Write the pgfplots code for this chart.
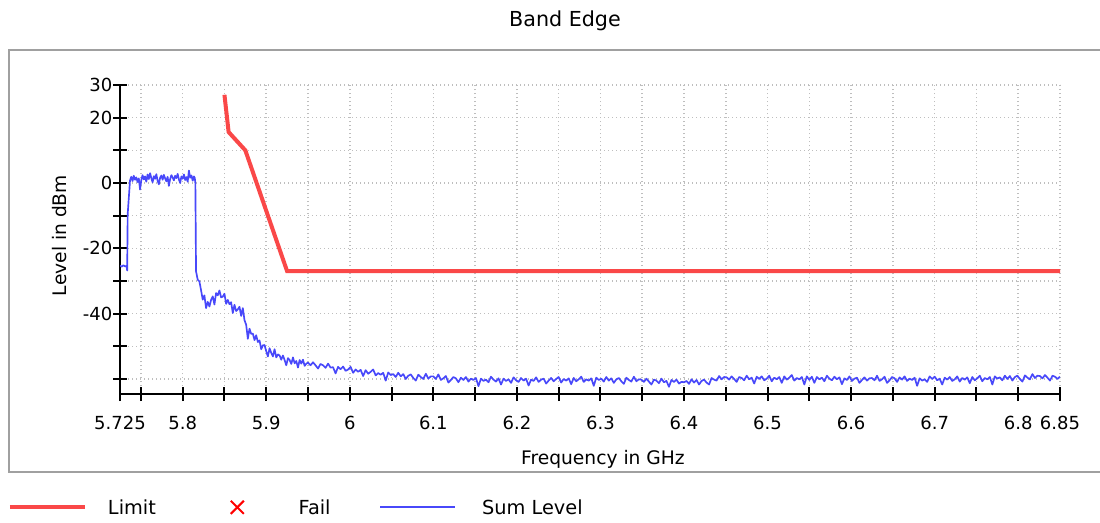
\documentclass[border=0pt]{standalone}
\usepackage{fontspec}
\setmainfont{DejaVu Sans}
\usepackage{pgfplots}
\pgfplotsset{compat=1.18}
\definecolor{limitred}{RGB}{250,72,72}
\definecolor{sumblue}{RGB}{72,72,250}
\definecolor{failred}{RGB}{255,0,0}
\definecolor{framegray}{RGB}{160,160,160}
\definecolor{gridgray}{RGB}{190,190,190}
\pgfplotsset{
  linelegend/.style={legend image code/.code={\draw[##1] (0pt,0.5pt) -- (56.25pt,0.5pt); \path[draw=none,fill=none] (0pt,0pt) -- (73.5pt,0pt);}},
  sumlegend/.style={legend image code/.code={\draw[##1] (0pt,0.5pt) -- (56.25pt,0.5pt); \path[draw=none,fill=none] (0pt,0pt) -- (76.5pt,0pt);}},
  faillegend/.style={legend image code/.code={\draw[failred, line width=1.5pt] (22.6pt,-4.4pt)--(32.4pt,5.4pt) (22.6pt,5.4pt)--(32.4pt,-4.4pt); \path[draw=none,fill=none] (0pt,0pt) -- (73.5pt,0pt);}},
}
\begin{document}
\begin{tikzpicture}
\useasboundingbox (0,0) rectangle (825pt,391.5pt);
\fill[white] (0,0) rectangle (825pt,391.5pt);
\draw[framegray, line width=1.5pt] (6.75pt,37.5pt) rectangle (835pt,354pt);
\begin{axis}[
  at={(90pt,96pt)}, anchor=south west,
  scale only axis, width=705pt, height=231.75pt,
  xmin=5.725, xmax=6.85, ymin=-64.6, ymax=30,
  axis x line=bottom, axis y line=left,
  axis line style={-, line width=1.9pt, black},
  xtick={5.725,5.75,5.8,5.85,5.9,5.95,6,6.05,6.1,6.15,6.2,6.25,6.3,6.35,6.4,6.45,6.5,6.55,6.6,6.65,6.7,6.75,6.8,6.85},
  xticklabels={5.725,{},5.8,{},5.9,{},6,{},6.1,{},6.2,{},6.3,{},6.4,{},6.5,{},6.6,{},6.7,{},6.8,6.85},
  ytick={-60,-50,-40,-30,-20,-10,0,10,20,30},
  yticklabels={{},{},-40,{},-20,{},0,{},20,30},
  tick align=center, major tick length=10.5pt,
  tick style={line width=1.5pt, black},
  ticklabel style={font=\fontsize{13.5}{16}\selectfont},
  xticklabel style={yshift=-7.5pt},
  yticklabel style={xshift=3pt},
  grid=major,
  major grid style={dash pattern=on 1.1pt off 1.9pt, line width=1.1pt, gridgray},
  every axis title shift=0pt,
  title={Band Edge},
  title style={at={(0.4734,1.1887)}, anchor=base, font=\fontsize{15.5}{18}\selectfont},
  xlabel={Frequency in GHz},
  xlabel style={at={(0.5138,-0.2275)}, anchor=base, font=\fontsize{14}{17}\selectfont},
  ylabel={Level in dBm},
  ylabel style={at={(-0.0644,0.5129)}, anchor=center, font=\fontsize{14}{17}\selectfont},
  legend columns=3,
  legend style={at={(-0.11915,-0.3689)}, anchor=west, draw=none, fill=none,
    inner sep=0pt, outer sep=0pt, column sep=0pt, row sep=0pt,
    nodes={inner sep=0pt, outer sep=0pt},
    font=\fontsize{14.5}{17}\selectfont},
]
\addplot[limitred, line width=3pt, linelegend] coordinates {
  (5.85,27) (5.855,15.6) (5.875,10) (5.925,-27) (6.85,-27)
};
\addlegendentry{\makebox[69.5pt][l]{Limit}}
\addlegendimage{faillegend}
\addlegendentry{\makebox[60.5pt][l]{Fail}}
\addplot[sumblue, line width=1.25pt, line join=round, sumlegend] table {
x y
5.7250 -25.3
5.7270 -25.6
5.7290 -25.2
5.7310 -25.5
5.7328 -25.4
5.7336 -26.8
5.7342 -9.5
5.7370 0.8
5.7385 1.9
5.7400 0.6
5.7415 2.2
5.7430 1.0
5.7445 1.7
5.7460 0.3
5.7475 1.4
5.7490 -2.0
5.7505 0.9
5.7520 2.4
5.7535 1.1
5.7550 2.0
5.7565 0.4
5.7580 2.6
5.7595 1.2
5.7610 3.0
5.7625 1.5
5.7640 0.2
5.7655 2.1
5.7670 1.3
5.7685 2.7
5.7700 0.7
5.7715 -0.4
5.7730 1.6
5.7745 2.3
5.7760 1.0
5.7775 2.5
5.7790 1.4
5.7805 0.5
5.7820 1.9
5.7835 -0.9
5.7850 1.2
5.7865 2.4
5.7880 1.7
5.7895 0.8
5.7910 2.2
5.7925 1.5
5.7940 2.8
5.7955 1.1
5.7970 0.0
5.7985 2.0
5.8000 1.3
5.8015 2.6
5.8030 0.9
5.8045 1.8
5.8060 0.4
5.8075 3.8
5.8090 1.6
5.8105 2.3
5.8120 0.7
5.8135 2.0
5.8145 1.5
5.8152 0.0
5.8160 -27.0
5.8180 -29.6
5.8200 -30.1
5.8220 -32.8
5.8240 -35.7
5.8260 -34.4
5.8280 -38.3
5.8300 -36.4
5.8320 -37.8
5.8340 -35.8
5.8360 -34.7
5.8380 -37.2
5.8400 -33.7
5.8420 -34.4
5.8440 -32.9
5.8460 -35.0
5.8480 -34.8
5.8500 -33.9
5.8520 -37.0
5.8540 -35.8
5.8560 -37.1
5.8580 -36.5
5.8600 -39.8
5.8620 -37.3
5.8640 -39.2
5.8660 -38.7
5.8680 -37.9
5.8700 -40.7
5.8720 -38.3
5.8740 -42.0
5.8760 -43.4
5.8780 -47.7
5.8800 -44.6
5.8820 -46.2
5.8840 -46.1
5.8860 -48.1
5.8880 -46.6
5.8900 -48.7
5.8920 -48.2
5.8940 -50.9
5.8960 -49.7
5.8980 -49.6
5.9000 -51.5
5.9020 -53.1
5.9040 -50.6
5.9060 -52.0
5.9080 -53.1
5.9100 -50.9
5.9120 -53.4
5.9140 -52.5
5.9160 -52.8
5.9180 -54.1
5.9200 -52.8
5.9220 -54.2
5.9240 -55.8
5.9260 -53.6
5.9280 -54.2
5.9300 -55.4
5.9320 -53.4
5.9340 -55.2
5.9360 -54.5
5.9380 -56.5
5.9400 -54.2
5.9420 -55.3
5.9440 -54.1
5.9460 -56.0
5.9480 -55.3
5.950 -55.0
5.953 -55.8
5.956 -54.9
5.959 -55.8
5.962 -56.8
5.965 -55.4
5.968 -55.8
5.971 -56.6
5.974 -55.3
5.977 -56.5
5.980 -56.4
5.983 -58.3
5.986 -56.3
5.989 -57.0
5.992 -56.2
5.995 -57.5
5.998 -57.1
6.001 -56.3
6.004 -58.1
6.007 -57.1
6.010 -57.8
6.013 -57.2
6.016 -59.1
6.019 -57.3
6.022 -58.4
6.025 -57.8
6.028 -57.1
6.031 -58.9
6.034 -58.2
6.037 -58.7
6.040 -58.1
6.043 -60.5
6.046 -58.0
6.049 -58.8
6.052 -58.5
6.055 -59.4
6.058 -58.1
6.061 -59.2
6.064 -58.5
6.067 -60.0
6.070 -59.0
6.073 -58.6
6.076 -59.7
6.079 -60.5
6.082 -58.7
6.085 -59.4
6.088 -60.0
6.091 -58.4
6.094 -59.9
6.097 -59.2
6.100 -59.2
6.103 -60.0
6.106 -58.6
6.109 -60.3
6.112 -59.8
6.115 -59.1
6.118 -61.1
6.121 -60.3
6.124 -59.4
6.127 -59.8
6.130 -61.0
6.133 -59.6
6.136 -60.3
6.139 -59.4
6.142 -60.8
6.145 -59.9
6.148 -60.3
6.151 -59.7
6.154 -62.2
6.157 -59.9
6.160 -60.6
6.163 -60.2
6.166 -61.0
6.169 -59.3
6.172 -60.2
6.175 -60.8
6.178 -59.8
6.181 -61.7
6.184 -59.9
6.187 -60.6
6.190 -60.1
6.193 -61.2
6.196 -59.5
6.199 -60.4
6.202 -60.9
6.205 -59.7
6.208 -60.5
6.211 -59.9
6.214 -62.0
6.217 -60.2
6.220 -60.6
6.223 -59.5
6.226 -60.9
6.229 -60.2
6.232 -59.9
6.235 -61.4
6.238 -60.5
6.241 -59.7
6.244 -60.7
6.247 -60.0
6.250 -59.4
6.253 -61.1
6.256 -60.0
6.259 -60.5
6.262 -59.8
6.265 -61.6
6.268 -59.7
6.271 -60.7
6.274 -60.1
6.277 -59.3
6.280 -60.9
6.283 -60.1
6.286 -60.5
6.289 -59.8
6.292 -62.1
6.295 -59.6
6.298 -60.3
6.301 -59.9
6.304 -60.8
6.307 -59.4
6.310 -60.5
6.313 -59.8
6.316 -61.2
6.319 -60.1
6.322 -59.7
6.325 -60.7
6.328 -61.5
6.331 -59.6
6.334 -60.3
6.337 -60.8
6.340 -59.3
6.343 -60.7
6.346 -60.1
6.349 -60.2
6.352 -60.9
6.355 -59.9
6.358 -60.8
6.361 -61.7
6.364 -60.2
6.367 -60.5
6.370 -61.3
6.373 -59.9
6.376 -61.0
6.379 -60.6
6.382 -62.4
6.385 -60.3
6.388 -60.9
6.391 -60.2
6.394 -61.4
6.397 -60.9
6.400 -61.0
6.403 -60.6
6.406 -61.5
6.409 -60.1
6.412 -61.1
6.415 -60.3
6.418 -61.7
6.421 -60.6
6.424 -60.2
6.427 -61.1
6.430 -61.7
6.433 -59.7
6.436 -60.2
6.439 -60.5
6.442 -59.1
6.445 -60.1
6.448 -59.4
6.451 -59.5
6.454 -60.2
6.457 -59.2
6.460 -60.0
6.463 -60.9
6.466 -59.4
6.469 -59.7
6.472 -60.4
6.475 -59.0
6.478 -60.1
6.481 -59.6
6.484 -61.4
6.487 -59.3
6.490 -60.0
6.493 -59.2
6.496 -60.4
6.499 -59.9
6.502 -59.0
6.505 -60.7
6.508 -59.6
6.511 -60.1
6.514 -59.4
6.517 -61.2
6.520 -59.2
6.523 -60.2
6.526 -59.6
6.529 -58.8
6.532 -60.5
6.535 -59.7
6.538 -60.1
6.541 -59.4
6.544 -61.7
6.547 -59.2
6.550 -60.3
6.553 -59.3
6.556 -61.2
6.559 -59.4
6.562 -60.1
6.565 -59.6
6.568 -60.7
6.571 -59.0
6.574 -59.9
6.577 -60.4
6.580 -59.3
6.583 -60.1
6.586 -59.5
6.589 -61.6
6.592 -59.8
6.595 -60.3
6.598 -59.2
6.601 -60.6
6.604 -59.9
6.607 -59.6
6.610 -61.2
6.613 -60.3
6.616 -59.5
6.619 -60.5
6.622 -59.8
6.625 -59.7
6.628 -60.4
6.631 -59.0
6.634 -60.6
6.637 -60.1
6.640 -59.3
6.643 -61.2
6.646 -60.4
6.649 -59.4
6.652 -59.8
6.655 -60.9
6.658 -59.5
6.661 -60.2
6.664 -59.2
6.667 -60.6
6.670 -59.9
6.673 -60.3
6.676 -59.6
6.679 -62.1
6.682 -59.8
6.685 -60.5
6.688 -60.1
6.691 -60.9
6.694 -59.2
6.697 -60.0
6.700 -59.3
6.703 -60.4
6.706 -59.9
6.709 -61.7
6.712 -59.6
6.715 -60.2
6.718 -59.4
6.721 -60.6
6.724 -60.1
6.727 -59.2
6.730 -60.8
6.733 -59.7
6.736 -60.2
6.739 -59.5
6.742 -61.3
6.745 -59.4
6.748 -60.4
6.751 -59.8
6.754 -59.0
6.757 -60.7
6.760 -59.7
6.763 -60.1
6.766 -59.4
6.769 -61.7
6.772 -59.2
6.775 -59.9
6.778 -59.5
6.781 -60.4
6.784 -59.0
6.787 -60.0
6.790 -59.1
6.793 -60.5
6.796 -59.4
6.799 -59.0
6.802 -60.0
6.805 -60.8
6.808 -58.9
6.811 -59.6
6.814 -60.1
6.817 -58.5
6.820 -59.7
6.823 -59.0
6.826 -59.1
6.829 -59.8
6.832 -58.8
6.835 -59.6
6.838 -60.5
6.841 -59.0
6.844 -59.3
6.847 -60.0
6.850 -59.3
};
\addlegendentry{\makebox[65pt][l]{Sum Level}}
\end{axis}
\end{tikzpicture}
\end{document}
